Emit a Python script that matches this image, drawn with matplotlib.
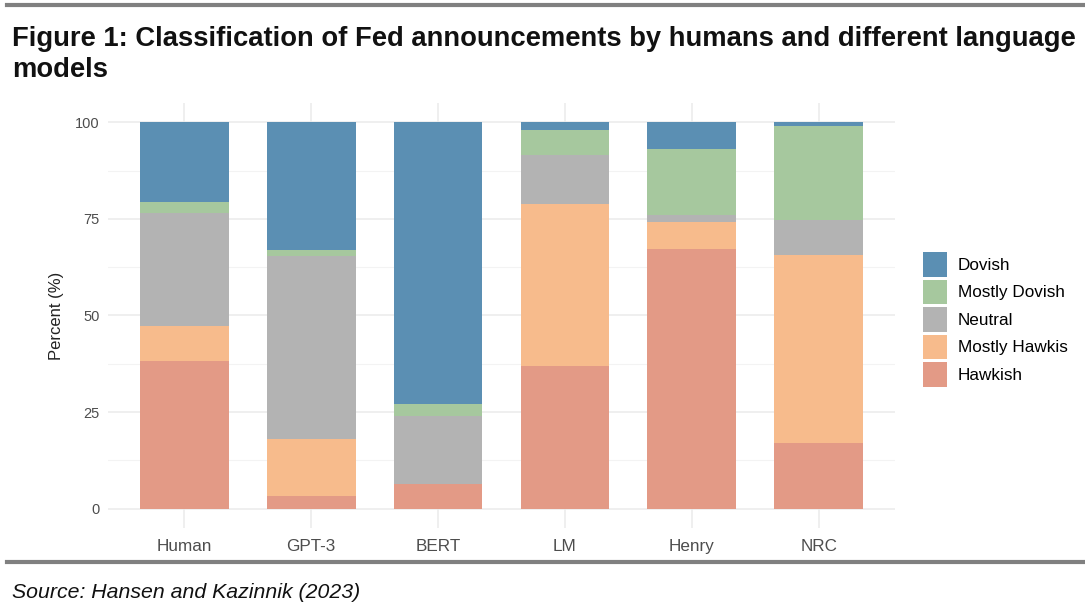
import matplotlib.pyplot as plt
import numpy as np
from matplotlib.patches import Patch
from matplotlib.lines import Line2D

plt.rcParams['font.family'] = ['Liberation Sans', 'DejaVu Sans']

# data (percent of announcements)
models = ['Human', 'GPT-3', 'BERT', 'LM', 'Henry', 'NRC']
classes = ['Hawkish', 'Mostly Hawkis', 'Neutral', 'Mostly Dovish', 'Dovish']
hawkish = [38.2, 3.4, 6.5, 37.0, 67.3, 17.0]
mostly_hawkish = [9.2, 14.7, 0.0, 41.9, 7.0, 48.7]
neutral = [29.1, 47.3, 17.6, 12.7, 1.6, 8.9]
mostly_dovish = [2.8, 1.6, 2.9, 6.3, 17.2, 24.4]
dovish = [20.7, 33.0, 73.0, 2.1, 6.9, 1.0]
colors = ['#e39a86', '#f7bb8c', '#b3b3b3', '#a6c89e', '#5b8fb3']
yticks = [0, 25, 50, 75, 100]

series = [hawkish, mostly_hawkish, neutral, mostly_dovish, dovish]

fig = plt.figure(figsize=(10.85, 6.11), dpi=100)
ax = fig.add_axes([108/1085, 1-528/611, 787/1085, 425/611])

x = np.arange(len(models))
bottom = np.zeros(len(models))
for vals, c in zip(series, colors):
    ax.bar(x, vals, bottom=bottom, width=0.7, color=c, zorder=3, linewidth=0)
    bottom += np.array(vals)

ax.set_xlim(-0.6, 5.6)
ax.set_ylim(-5, 105)
ax.set_xticks(x)
ax.set_xticklabels(models)
ax.set_yticks(yticks)
ax.set_yticks([12.5, 37.5, 62.5, 87.5], minor=True)
ax.grid(True, which='major', color='#ebebeb', linewidth=1.1, zorder=0)
ax.grid(True, which='minor', axis='y', color='#f3f3f3', linewidth=0.8, zorder=0)
ax.tick_params(which='both', length=0, labelcolor='#4d4d4d')
ax.tick_params(axis='x', pad=8, labelsize=12.3)
ax.tick_params(axis='y', pad=6, labelsize=10.5)
for s in ax.spines.values():
    s.set_visible(False)
ax.set_ylabel('Percent (%)', fontsize=12, color='#222222', labelpad=8)

handles = [Patch(facecolor=c, edgecolor='none') for c in colors[::-1]]
fig.legend(handles, classes[::-1], loc='upper left',
           bbox_to_anchor=(923/1085, 1-252/611), frameon=False,
           fontsize=12.3, handlelength=1.4, handleheight=1.83,
           handletextpad=0.65, labelspacing=0.18, borderpad=0,
           borderaxespad=0)

# header / footer
fig.add_artist(Line2D([7/1085, 1], [1-5/611, 1-5/611], color='#808080', linewidth=3))
fig.add_artist(Line2D([7/1085, 1], [1-562/611, 1-562/611], color='#808080', linewidth=3))
fig.text(12/1085, 1-46/611, 'Figure 1: Classification of Fed announcements by humans and different language',
         fontsize=19.7, fontweight='bold', va='baseline', ha='left', color='#111111')
fig.text(12/1085, 1-77/611, 'models',
         fontsize=19.7, fontweight='bold', va='baseline', ha='left', color='#111111')
fig.text(12/1085, 1-592/611, 'Source: Hansen and Kazinnik (2023)', fontsize=15.3,
         style='italic', va='center', ha='left', color='#111111')

fig.savefig('out.png', dpi=100)
